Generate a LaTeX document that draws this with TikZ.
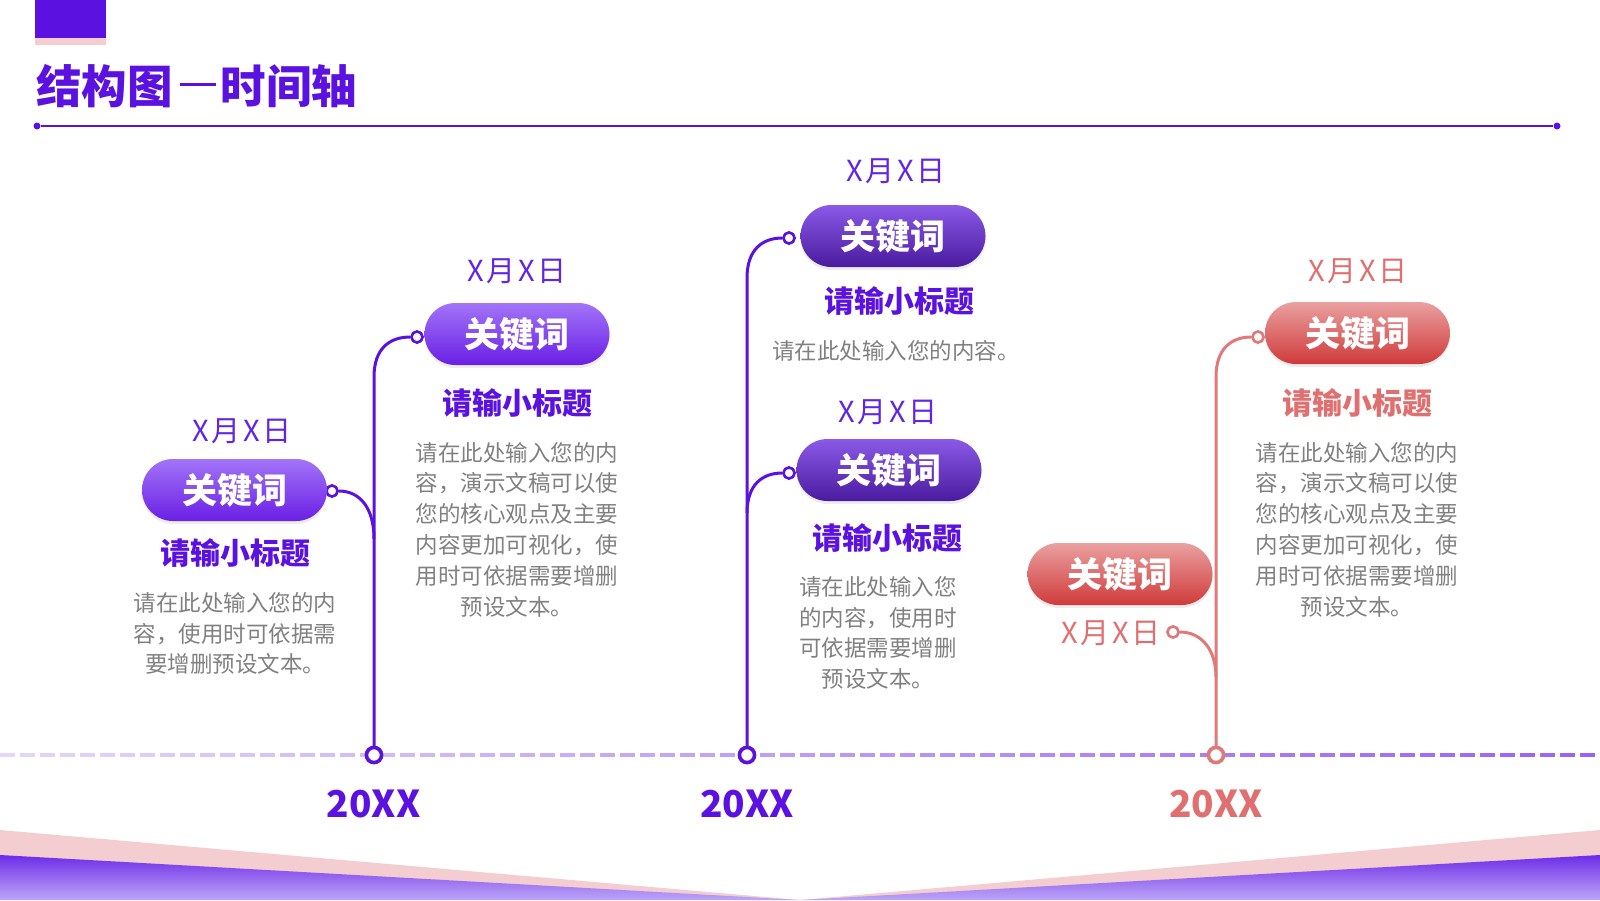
\documentclass[tikz,border=0pt]{standalone}
\usepackage{fontspec}
\setmainfont{Noto Sans CJK SC}
\usetikzlibrary{calc,shadows}
\definecolor{pmain}{HTML}{5B12E0}
\definecolor{pdate}{HTML}{6226E2}
\definecolor{pillAt}{HTML}{A274F8}
\definecolor{pillAb}{HTML}{6A1FE4}
\definecolor{pillBt}{HTML}{8A5AE8}
\definecolor{pillBb}{HTML}{4A1A9E}
\definecolor{pillCt}{HTML}{EAA0A0}
\definecolor{pillCb}{HTML}{D03A3A}
\definecolor{redt}{HTML}{E07070}
\definecolor{redl}{HTML}{E07A7A}
\definecolor{bodygray}{HTML}{808080}
\definecolor{tlL}{HTML}{E2D6F9}
\definecolor{tlR}{HTML}{9A62F2}
\definecolor{pinkband}{HTML}{F4CDD0}
\definecolor{bandT}{HTML}{6E2CE8}
\definecolor{bandB}{HTML}{BDA6F7}
\newcommand\fsz[2]{\fontsize{#1}{#2}\selectfont}
\begin{document}
\begin{tikzpicture}[x=1pt,y=-1pt,
  pillbase/.style={rounded corners=31pt, minimum width=185pt, minimum height=62pt, inner sep=0pt,
     text=white, font=\fsz{35}{40}\bfseries,
     drop shadow={shadow xshift=0pt, shadow yshift=-3pt, opacity=0.15}},
  pillA/.style={pillbase, top color=pillAt, bottom color=pillAb},
  pillB/.style={pillbase, top color=pillBt, bottom color=pillBb},
  pillC/.style={pillbase, top color=pillCt, bottom color=pillCb},
  datelbl/.style={inner sep=0pt, font=\fsz{29}{34}\addfontfeature{LetterSpace=8}},
  subtl/.style={inner sep=0pt, font=\fsz{30}{36}\bfseries},
  bodytxt/.style={inner sep=0pt, align=center, text=bodygray, font=\fsz{22.5}{30.8}},
  yearlbl/.style={inner sep=0pt, font=\fsz{37}{42}\bfseries},
  tlcirc/.style={circle, draw, fill=white, line width=3.5pt, minimum size=15pt, inner sep=0pt},
  enddot/.style={circle, draw, fill=white, line width=2.5pt, minimum size=11pt, inner sep=0pt},
  connP/.style={draw=pmain, line width=3pt},
  connR/.style={draw=redl, line width=3pt},
  ldot/.style={circle, fill=pmain, minimum size=7pt, inner sep=0pt}]
\useasboundingbox (0,0) rectangle (1600,900);
% header
\fill[pmain] (35,0) rectangle (106,38);
\fill[pinkband] (35,38) rectangle (106,45);
\node[anchor=west, text=pmain, font=\fsz{45.5}{50}\bfseries, inner sep=0pt] (title) at (36,86)
  {结构图\hspace{7pt}\raisebox{17.5pt}{\rule{36pt}{2.6pt}}\hspace{5pt}时间轴};
\node[ldot] (l1) at (37,126) {};
\node[ldot] (l2) at (1557,126) {};
\draw[pmain, line width=2pt] (l1) -- (l2);
% bottom band
\fill[pinkband] (0,830) -- (800,900) -- (1600,830) -- (1600,900) -- (0,900) -- cycle;
\shade[top color=bandT, bottom color=bandB] (0,855) -- (800,900) -- (1600,855) -- (1600,900) -- (0,900) -- cycle;
% timeline dashes
\foreach \i in {0,...,79}{
  \pgfmathsetmacro\p{\i*100/79}
  \draw[line width=4pt, color=tlR!\p!tlL] (\i*20,755) -- ++(15,0);
}
% timeline circles and end dots
\node[tlcirc, draw=pmain] (t1) at (374,755) {};
\node[tlcirc, draw=pmain] (t2) at (747,755) {};
\node[tlcirc, draw=redl] (t3) at (1216,755) {};
\node[enddot, draw=pmain] (d1) at (417,337) {};
\node[enddot, draw=pmain] (d2) at (332,491) {};
\node[enddot, draw=pmain] (d3) at (789,238) {};
\node[enddot, draw=pmain] (d4) at (789,473) {};
\node[enddot, draw=redl] (d5) at (1258,337) {};
\node[enddot, draw=redl] (d6) at (1173,632) {};
% connectors
\draw[connP] (t1.north) -- ($(t1|-d1)+(0,40)$) .. controls ($(t1|-d1)+(0,12)$) and ($(t1|-d1)+(15,0)$) .. (d1.west);
\draw[connP] (d2.east) .. controls ($(d2.east)+(22,0)$) and ($(t1|-d2)+(0,18)$) .. ($(t1|-d2)+(0,48)$);
\draw[connP] (t2.north) -- ($(t2|-d3)+(0,40)$) .. controls ($(t2|-d3)+(0,12)$) and ($(t2|-d3)+(15,0)$) .. (d3.west);
\draw[connP] ($(t2|-d4)+(0,40)$) .. controls ($(t2|-d4)+(0,12)$) and ($(t2|-d4)+(15,0)$) .. (d4.west);
\draw[connR] (t3.north) -- ($(t3|-d5)+(0,40)$) .. controls ($(t3|-d5)+(0,12)$) and ($(t3|-d5)+(15,0)$) .. (d5.west);
\draw[connR] (d6.east) .. controls ($(d6.east)+(22,0)$) and ($(t3|-d6)+(0,18)$) .. ($(t3|-d6)+(0,45)$);
% redraw circles on top
\node[tlcirc, draw=pmain] at (t1) {};
\node[tlcirc, draw=pmain] at (t2) {};
\node[tlcirc, draw=redl] at (t3) {};
\node[enddot, draw=pmain] at (d1) {};
\node[enddot, draw=pmain] at (d2) {};
\node[enddot, draw=pmain] at (d3) {};
\node[enddot, draw=pmain] at (d4) {};
\node[enddot, draw=redl] at (d5) {};
\node[enddot, draw=redl] at (d6) {};
% pills
\node[pillA] (p1) at (234.5,490) {关键词};
\node[pillA] (p2) at (517,334) {关键词};
\node[pillB] (p3) at (893,236) {关键词};
\node[pillB] (p4) at (889,470) {关键词};
\node[pillC] (p5) at (1357.5,333) {关键词};
\node[pillC] (p6) at (1120,574) {关键词};
% dates
\node[datelbl, text=pdate] (dt1) at (242,431) {X月X日};
\node[datelbl, text=pdate] (dt2) at (517,271) {X月X日};
\node[datelbl, text=pdate] (dt3) at (896,171) {X月X日};
\node[datelbl, text=pdate] (dt4) at (888,412) {X月X日};
\node[datelbl, text=redt] (dt5) at (1358,271) {X月X日};
\node[datelbl, text=redt] (dt6) at (1111,633) {X月X日};
% subtitles
\node[subtl, text=pmain] (st1) at (235,553) {请输小标题};
\node[subtl, text=pmain] (st2) at (517,403) {请输小标题};
\node[subtl, text=pmain] (st3) at (899,301) {请输小标题};
\node[subtl, text=pmain] (st4) at (887,538) {请输小标题};
\node[subtl, text=redt] (st5) at (1357,403) {请输小标题};
% body texts
\node[bodytxt] (b1) at (235,633.5) {请在此处输入您的内\\容，使用时可依据需\\要增删预设文本。};
\node[bodytxt] (b2) at (517,529.5) {请在此处输入您的内\\容，演示文稿可以使\\您的核心观点及主要\\内容更加可视化，使\\用时可依据需要增删\\预设文本。};
\node[bodytxt] (b3) at (896,351) {请在此处输入您的内容。};
\node[bodytxt] (b4) at (878,633) {请在此处输入您\\的内容，使用时\\可依据需要增删\\预设文本。};
\node[bodytxt] (b5) at (1357,529.5) {请在此处输入您的内\\容，演示文稿可以使\\您的核心观点及主要\\内容更加可视化，使\\用时可依据需要增删\\预设文本。};
% years
\node[yearlbl, text=pmain] (y1) at (373.5,804) {20XX};
\node[yearlbl, text=pmain] (y2) at (747,804) {20XX};
\node[yearlbl, text=redt] (y3) at (1216,804) {20XX};
\end{tikzpicture}
\end{document}
